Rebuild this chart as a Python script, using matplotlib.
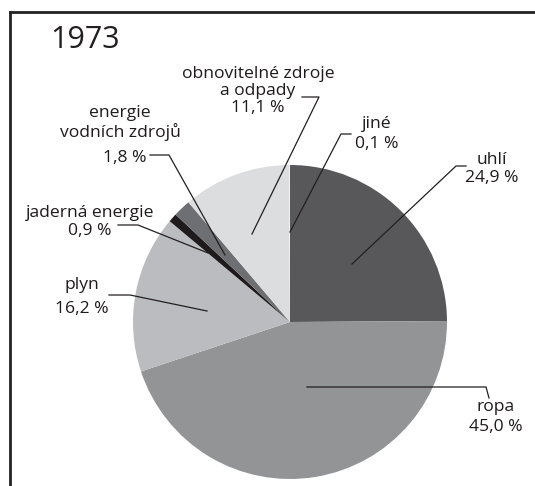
import matplotlib
matplotlib.use("Agg")
import matplotlib.pyplot as plt
from matplotlib.lines import Line2D

plt.rcParams['font.family'] = ['Open Sans', 'DejaVu Sans']

# Data
categories = ["uhlí", "ropa", "plyn", "jaderná energie", "energie vodních zdrojů",
              "obnovitelné zdroje a odpady", "jiné"]
shares = [24.9, 45.0, 16.2, 0.9, 1.8, 11.1, 0.1]
share_labels = ["24,9 %", "45,0 %", "16,2 %", "0,9 %", "1,8 %", "11,1 %", "0,1 %"]
year = "1973"

colors = ["#58585a", "#939496", "#bbbcbf", "#1f1b1c", "#6e6f72", "#dcdddf", "#f2f2f2"]

W, H = 535, 486
fig = plt.figure(figsize=(W / 100, H / 100), dpi=100)

cx, cy, r = 290, 322, 157
# pie in an axes aligned to pixel positions
pax = fig.add_axes([(cx - r) / W, 1 - (cy + r) / H, 2 * r / W, 2 * r / H])
pax.pie(shares, colors=colors, startangle=90, counterclock=False,
        wedgeprops=dict(linewidth=0))
pax.set_aspect('equal')
pax.set_xlim(-1, 1)
pax.set_ylim(-1, 1)
pax.axis('off')

# overlay axes in pixel coordinates for labels and leaders
ax = fig.add_axes([0, 0, 1, 1])
ax.patch.set_alpha(0)
ax.set_xlim(0, W)
ax.set_ylim(H, 0)
ax.axis('off')

# frame
fig.add_artist(Line2D([10 / W, 10 / W], [0, 1 - 12 / H], transform=fig.transFigure,
                      color="#222222", lw=2))
fig.add_artist(Line2D([10 / W, 1], [1 - 12 / H, 1 - 12 / H], transform=fig.transFigure,
                      color="#222222", lw=2))

ax.text(50, 40, year, fontsize=22, color="#231f20", va='center', ha='left')

fs = 12.6
tc = "#1f1b1c"

def lbl(x, y, s, ha='center', ls=1.2):
    ax.text(x, y, s, fontsize=fs, color=tc, ha=ha, va='center', linespacing=ls)

def leader(pts):
    xs = [p[0] for p in pts]
    ys = [p[1] for p in pts]
    ax.plot(xs, ys, color="#231f20", lw=0.9)

# obnovitelné zdroje a odpady
lbl(258, 91, categories[5].replace(" a ", "\na ") + "\n" + share_labels[5], ls=1.12)
leader([(302, 97), (319, 97), (252, 234)])
# jiné
lbl(377, 134, categories[6] + "\n" + share_labels[6], ls=1.3)
leader([(351, 134), (341, 134), (290, 232)])
# uhlí
lbl(492, 169, categories[0] + "\n" + share_labels[0], ls=1.22)
leader([(466, 166), (456, 166), (352, 264)])
# ropa
lbl(496, 417, categories[1] + "\n" + share_labels[1], ls=1.3)
leader([(307, 387), (486, 387), (489, 398)])
# plyn
lbl(82, 297, categories[2] + "\n" + share_labels[2], ls=1.65)
leader([(109, 295), (130, 295), (207, 311)])
# jaderná energie
lbl(90, 222, categories[3] + "\n" + share_labels[3], ls=1.22)
leader([(118, 225), (138, 225), (208, 253)])
# energie vodních zdrojů
lbl(120, 123, "energie\nvodních zdrojů", ls=1.15)
lbl(125, 158, share_labels[4])
leader([(150, 155), (169, 155), (225, 255)])

fig.savefig("out.png", dpi=100)
